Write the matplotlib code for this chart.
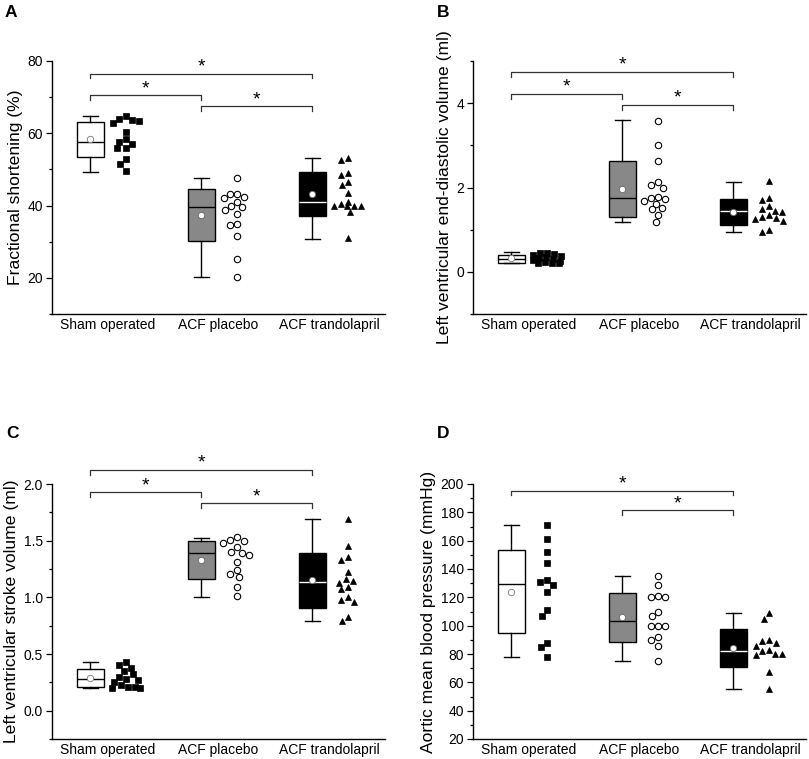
import matplotlib
matplotlib.use('Agg')
import matplotlib.pyplot as plt
from matplotlib.ticker import MultipleLocator
import numpy as np

plt.rcParams['font.family'] = ['Liberation Sans', 'DejaVu Sans']

groups = ['Sham operated', 'ACF placebo', 'ACF trandolapril']

# box stats: whislo, q1, median, q3, whishi, mean
# A - fractional shortening (%)
fs_sham = [64.8, 62.9, 63.5, 63.8, 64.0, 60.4, 57.7, 55.8, 55.8, 57.0, 58.3, 52.8, 51.5, 49.5]
fs_placebo = [47.6, 43.2, 43.2, 42.3, 42.0, 41.0, 40.0, 39.5, 38.8, 37.8, 35.0, 34.7, 31.5, 25.3, 20.3]
fs_trando = [53.3, 52.6, 49.0, 48.5, 46.6, 45.6, 43.5, 41.0, 40.5, 40.0, 40.0, 40.0, 40.0, 38.2, 31.0]
fs_box = [[49.4, 53.5, 57.6, 63.2, 64.7, 58.3],
          [20.2, 30.1, 39.6, 44.6, 47.6, 37.4],
          [30.8, 37.1, 41.0, 49.2, 53.3, 43.3]]

# B - LV end-diastolic volume (ml)
edv_sham = [0.45, 0.44, 0.42, 0.40, 0.38, 0.35, 0.33, 0.30, 0.28, 0.25, 0.24, 0.22, 0.21, 0.20]
edv_placebo = [3.58, 3.00, 2.62, 2.12, 2.07, 2.00, 1.78, 1.76, 1.72, 1.68, 1.62, 1.52, 1.48, 1.35, 1.19]
edv_trando = [2.15, 1.75, 1.70, 1.55, 1.50, 1.45, 1.42, 1.35, 1.30, 1.28, 1.25, 1.20, 1.00, 0.95]
edv_box = [[0.21, 0.22, 0.31, 0.41, 0.47, 0.32],
           [1.19, 1.30, 1.745, 2.62, 3.59, 1.96],
           [0.935, 1.10, 1.45, 1.73, 2.14, 1.42]]

# C - LV stroke volume (ml)
sv_sham = [0.43, 0.40, 0.38, 0.35, 0.32, 0.30, 0.28, 0.27, 0.25, 0.23, 0.21, 0.21, 0.20, 0.20]
sv_placebo = [1.53, 1.51, 1.50, 1.48, 1.44, 1.40, 1.39, 1.37, 1.31, 1.24, 1.21, 1.18, 1.09, 1.01]
sv_trando = [1.69, 1.45, 1.36, 1.33, 1.22, 1.16, 1.14, 1.13, 1.09, 1.07, 1.00, 0.98, 0.96, 0.83, 0.79]
sv_box = [[0.197, 0.206, 0.283, 0.37, 0.43, 0.29],
          [1.007, 1.166, 1.387, 1.496, 1.526, 1.331],
          [0.79, 0.904, 1.134, 1.387, 1.688, 1.149]]

# D - aortic mean blood pressure (mmHg)
map_sham = [171, 161, 152, 144, 132, 131, 129, 124, 111, 107, 88, 85, 78]
map_placebo = [135, 129, 121, 120, 120, 110, 107, 100, 100, 100, 92, 90, 86, 75]
map_trando = [109, 105, 90, 89, 88, 86, 83, 82, 80, 80, 79, 67, 55]
map_box = [[78.2, 94.7, 129.1, 153.3, 170.8, 124.1],
           [75.1, 88.5, 103.6, 123.4, 135.0, 106.0],
           [55.1, 70.6, 82.4, 97.5, 108.8, 84.3]]

W, H = 809, 759
BOX_OFF = -0.155
PTS_OFF = 0.17
XPIX = 111.0

box_faces = ['white', '#888888', 'black']
median_cols = ['black', 'black', 'white']
mean_edges = ['#777777', '#666666', '#666666']
pt_style = [dict(marker='s', ms=4.0, mfc='black', mec='black', mew=0.5),
            dict(marker='o', ms=4.6, mfc='white', mec='black', mew=0.8),
            dict(marker='^', ms=5.0, mfc='black', mec='black', mew=0.5)]


def swarm_offsets(vals, ypix, d=7.0, maxw=14.0):
    # beeswarm in pixel space, limited width; returns x offsets in data units
    order = np.argsort(vals)[::-1]
    placed = []
    offs = np.zeros(len(vals))
    steps = np.arange(-maxw, maxw + 0.1, 1.0)
    steps = steps[np.argsort(np.abs(steps), kind='stable')]
    for i in order:
        y = vals[i] * ypix
        best, best_score = 0.0, None
        for s in steps:
            score = sum(max(0.0, d - np.hypot(s - px, y - py)) for px, py in placed)
            if best_score is None or score < best_score - 1e-9:
                best, best_score = s, score
        placed.append((best, y))
        offs[i] = best / XPIX
    return offs


def panel(rect, points, boxes, ylim, major, minor, ylabel, brackets, drop):
    l, t, r, b = rect
    ax = fig.add_axes([l / W, 1 - b / H, (r - l) / W, (b - t) / H])
    ax.set_xlim(0.5, 3.5)
    ax.set_ylim(*ylim)
    ypix = (b - t) / (ylim[1] - ylim[0])

    stats = []
    for s in boxes:
        stats.append(dict(whislo=s[0], q1=s[1], med=s[2], q3=s[3], whishi=s[4],
                          mean=s[5], fliers=[]))
    pos = np.arange(1, 4) + BOX_OFF
    bp = ax.bxp(stats, positions=pos, widths=0.24, capwidths=0.13, patch_artist=True,
                showmeans=True,
                boxprops=dict(linewidth=1.0, edgecolor='black'),
                whiskerprops=dict(linewidth=1.0, color='black'),
                capprops=dict(linewidth=1.0, color='black'),
                medianprops=dict(linewidth=1.0),
                meanprops=dict(marker='o', markersize=4.6, markerfacecolor='white'))
    for i in range(3):
        bp['boxes'][i].set_facecolor(box_faces[i])
        bp['medians'][i].set_color(median_cols[i])
        bp['means'][i].set_markeredgecolor(mean_edges[i])
        bp['means'][i].set_markeredgewidth(0.6)

    for i, vals in enumerate(points):
        vals = np.array(vals, dtype=float)
        xs = i + 1 + PTS_OFF + swarm_offsets(vals, ypix)
        ax.plot(xs, vals, linestyle='none', **pt_style[i])

    for g1, g2, y in brackets:
        x1, x2 = g1 + 1 + BOX_OFF, g2 + 1 + BOX_OFF
        ax.plot([x1, x1, x2, x2], [y - drop, y, y, y - drop], color='#333333',
                lw=0.9, clip_on=False)
        ax.annotate('*', xy=((x1 + x2) / 2, y), xytext=(0, 1.5), textcoords='offset points',
                    ha='center', va='baseline', fontsize=14, annotation_clip=False)

    ax.spines['top'].set_visible(False)
    ax.spines['right'].set_visible(False)
    ax.spines['left'].set_linewidth(1.0)
    ax.spines['bottom'].set_linewidth(1.0)
    ax.yaxis.set_major_locator(MultipleLocator(major))
    ax.yaxis.set_minor_locator(MultipleLocator(minor))
    ax.tick_params(axis='y', which='major', length=4.3, width=0.9, pad=2.2, labelsize=10)
    ax.tick_params(axis='y', which='minor', length=2.2, width=0.9)
    ax.set_xticks([1, 2, 3])
    ax.set_xticklabels(groups)
    ax.tick_params(axis='x', length=0, pad=3, labelsize=10)
    ax.set_ylabel(ylabel, fontsize=12.6, labelpad=3)
    return ax


fig = plt.figure(figsize=(W / 100, H / 100), dpi=100)

panel((52, 61, 385, 314), [fs_sham, fs_placebo, fs_trando], fs_box, (10, 80), 20, 10,
      'Fractional shortening (%)', [(0, 2, 76.5), (0, 1, 70.5), (1, 2, 67.5)], 1.2)
panel((473, 61, 806, 314), [edv_sham, edv_placebo, edv_trando], edv_box, (-1, 5), 2, 1,
      'Left ventricular end-diastolic volume (ml)',
      [(0, 2, 4.75), (0, 1, 4.22), (1, 2, 3.96)], 0.12)
panel((52, 484, 385, 739), [sv_sham, sv_placebo, sv_trando], sv_box, (-0.25, 2.0), 0.5, 0.25,
      'Left ventricular stroke volume (ml)',
      [(0, 2, 2.127), (0, 1, 1.926), (1, 2, 1.83)], 0.045)
panel((473, 484, 806, 739), [map_sham, map_placebo, map_trando], map_box, (20, 200), 20, 10,
      'Aortic mean blood pressure (mmHg)', [(0, 2, 195.3), (1, 2, 181.4)], 3.4)

for letter, x, y in [('A', 5, 12.5), ('B', 437, 12.5), ('C', 6, 433.5), ('D', 437, 433.5)]:
    fig.text(x / W, 1 - y / H, letter, fontsize=12.5, fontweight='bold', ha='left', va='center')

fig.savefig('out.png', dpi=100)
